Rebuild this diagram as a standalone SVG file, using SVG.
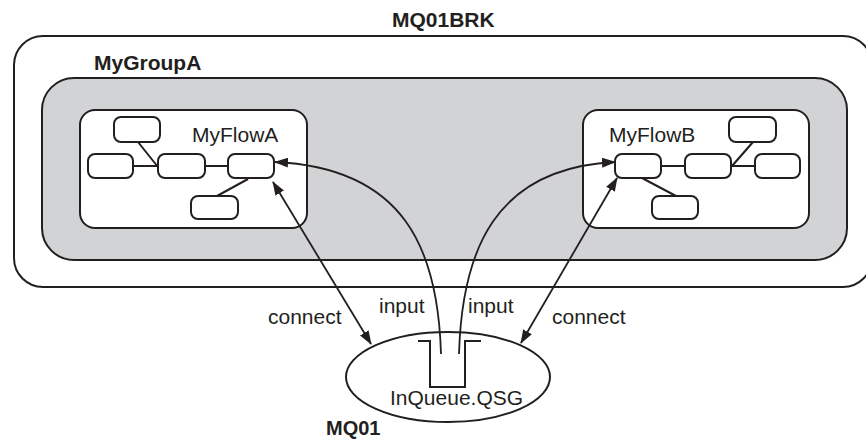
<svg xmlns="http://www.w3.org/2000/svg" width="866" height="439" viewBox="0 0 866 439">
<style>
.box{fill:#fff;stroke:#231f20;stroke-width:2}
.gray{fill:#d1d3d4;stroke:#231f20;stroke-width:2}
.node{fill:#fff;stroke:#231f20;stroke-width:2}
.ln{fill:none;stroke:#231f20;stroke-width:2}
.arr{fill:none;stroke:#231f20;stroke-width:1.8}
.t{font-family:"Liberation Sans",Arial,sans-serif;font-size:21px;fill:#231f20}
.b{font-family:"Liberation Sans",Arial,sans-serif;font-size:20px;font-weight:bold;fill:#231f20}
</style>
<defs>
<marker id="ah" viewBox="0 0 14 10" refX="13" refY="5" markerWidth="14" markerHeight="10" markerUnits="userSpaceOnUse" orient="auto-start-reverse">
<path d="M0,0 L14,5 L0,10 Z" fill="#231f20"/>
</marker>
</defs>
<g id="MQ01BRK">
<rect class="box" x="14" y="36" width="858" height="251" rx="29"/>
<text class="b" x="392" y="27" style="font-size:21px">MQ01BRK</text>
</g>
<g id="MyGroupA">
<rect class="gray" x="42" y="78" width="805" height="182" rx="32"/>
<text class="b" x="94" y="70" style="font-size:21px">MyGroupA</text>
</g>
<g id="MyFlowA">
<rect class="box" x="80" y="110" width="227" height="118" rx="15"/>
<text class="t" x="192" y="142">MyFlowA</text>
<line class="ln" x1="133" y1="166" x2="158" y2="166"/>
<line class="ln" x1="205" y1="166" x2="228" y2="166"/>
<line class="ln" x1="138" y1="142" x2="158" y2="167"/>
<line class="ln" x1="217" y1="196" x2="248" y2="179"/>
<rect class="node" x="114" y="117" width="46" height="25" rx="7"/>
<rect class="node" x="88" y="154" width="45" height="24" rx="7"/>
<rect class="node" x="158" y="154" width="47" height="24" rx="7"/>
<rect class="node" x="228" y="154" width="46" height="24" rx="7"/>
<rect class="node" x="191" y="196" width="47" height="23" rx="7"/>
</g>
<g id="MyFlowB">
<rect class="box" x="583" y="110" width="226" height="118" rx="15"/>
<text class="t" x="609" y="142">MyFlowB</text>
<line class="ln" x1="661" y1="166" x2="685" y2="166"/>
<line class="ln" x1="731" y1="166" x2="755" y2="166"/>
<line class="ln" x1="753" y1="142" x2="732" y2="166"/>
<line class="ln" x1="642" y1="178" x2="676" y2="196"/>
<rect class="node" x="615" y="154" width="46" height="24" rx="7"/>
<rect class="node" x="685" y="154" width="46" height="24" rx="7"/>
<rect class="node" x="755" y="154" width="45" height="24" rx="7"/>
<rect class="node" x="729" y="117" width="47" height="25" rx="7"/>
<rect class="node" x="652" y="196" width="46" height="23" rx="7"/>
</g>
<g id="MQ01">
<ellipse class="box" cx="448" cy="377" rx="102" ry="45"/>
<path class="ln" d="M418,341 H430 V387 H465 V341 H481"/>
<text class="t" x="390" y="405">InQueue.QSG</text>
<text class="b" x="326" y="435">MQ01</text>
</g>
<g id="connectors">
<path class="arr" d="M441,354 C438,250 405,168 275,162" marker-end="url(#ah)"/>
<path class="arr" d="M459,354 C462,250 495,168 615,162" marker-end="url(#ah)"/>
<line class="arr" x1="273" y1="182" x2="371" y2="344" marker-start="url(#ah)" marker-end="url(#ah)"/>
<line class="arr" x1="617" y1="178" x2="521" y2="343" marker-start="url(#ah)" marker-end="url(#ah)"/>
<text class="t" x="268" y="324">connect</text>
<text class="t" x="379" y="313">input</text>
<text class="t" x="468" y="313">input</text>
<text class="t" x="552" y="324">connect</text>
</g>
</svg>
